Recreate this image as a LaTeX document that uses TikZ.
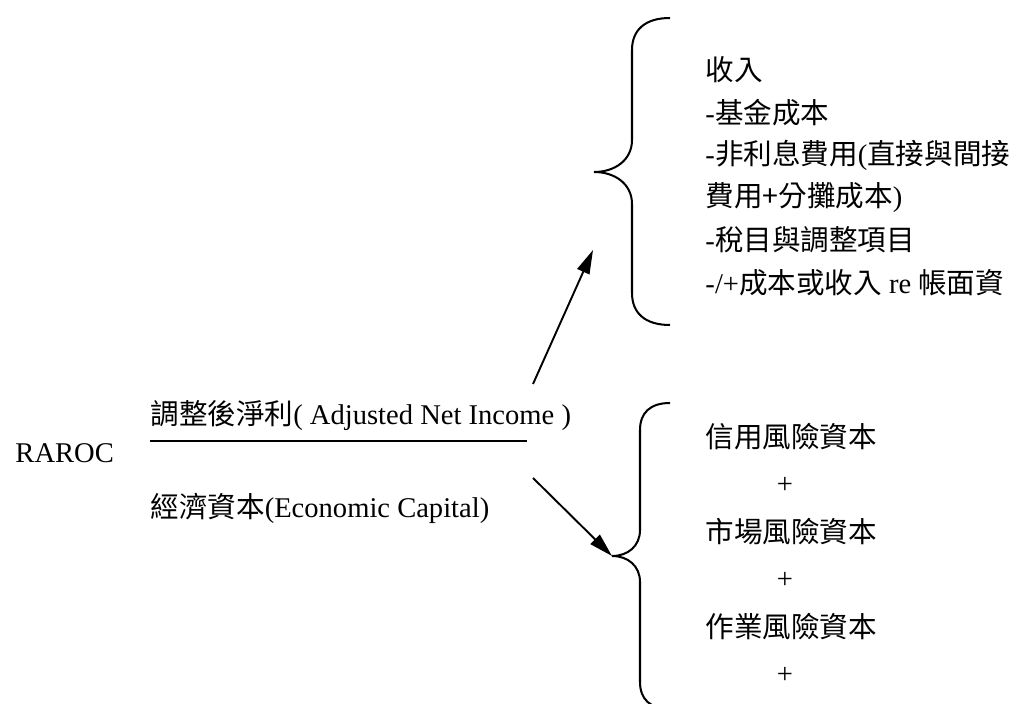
\documentclass[tikz,border=0pt]{standalone}
\usepackage{fontspec}
\setmainfont{Liberation Serif}
\newfontfamily\cjk{Noto Sans CJK TC}
\usepackage{tikz}
\usetikzlibrary{arrows.meta}

\tikzset{
  txt/.style={anchor=west, inner sep=0pt, font=\fontsize{12}{14}\selectfont},
  plus/.style={inner sep=0pt, font=\fontsize{12}{14}\selectfont},
  curl/.style={line width=0.85pt},
  pointer/.style={line width=0.8pt, -{Triangle[length=10pt,width=5.5pt]}},
}

\begin{document}
\begin{tikzpicture}[x=0.42pt, y=-0.42pt]
  \useasboundingbox (0,0) rectangle (1025,704);

  \node[txt] (raroc) at (15,453) {RAROC};
  \node[txt] (num) at (150,416) {{\cjk 調整後淨利}(\hspace{3pt}Adjusted Net Income\hspace{3pt})};
  \node[txt] (den) at (150,508) {{\cjk 經濟資本}(Economic Capital)};
  \coordinate (barL) at (150,441);
  \coordinate (barR) at (527,441);
  \draw[line width=1.2pt] (barL) -- (barR);

  % income side
  \draw[curl] (670,18) .. controls (645,18) and (632,30) .. (632,50) -- (632,140)
    .. controls (632,160) and (615,172) .. (594,172)
    .. controls (615,172) and (632,184) .. (632,204) -- (632,293)
    .. controls (632,313) and (645,325) .. (670,325);
  \foreach \item [count=\i from 0] in {
      {{\cjk 收入}},
      {-{\cjk 基金成本}},
      {-{\cjk 非利息費用}({\cjk 直接與間接}},
      {{\cjk 費用+分攤成本})},
      {-{\cjk 稅目與調整項目}},
      {-/+{\cjk 成本或收入} re {\cjk 帳面資}}}
    \node[txt] (inc\i) at (705,{70+42.5*\i}) {\item};

  % capital side
  \draw[curl] (670,403) .. controls (650,403) and (640,413) .. (640,430) -- (640,530)
    .. controls (640,546) and (628,556) .. (612,556)
    .. controls (628,556) and (640,566) .. (640,582) -- (640,682)
    .. controls (640,699) and (650,709) .. (670,709);
  \node[txt] (credit) at (705,437) {\cjk 信用風險資本};
  \node[plus] (plusA) at (785,485) {+};
  \node[txt] (market) at (705,532) {\cjk 市場風險資本};
  \node[plus] (plusB) at (785,580) {+};
  \node[txt] (oper) at (705,627) {\cjk 作業風險資本};
  \node[plus] (plusC) at (785,675) {+};

  \coordinate (numtail) at (533,384);
  \coordinate (incaim) at (593,250);
  \coordinate (dentail) at (533,478);
  \coordinate (captip) at (612,556);
  \draw[pointer] (numtail) -- (incaim);
  \draw[pointer] (dentail) -- (captip);
\end{tikzpicture}
\end{document}
